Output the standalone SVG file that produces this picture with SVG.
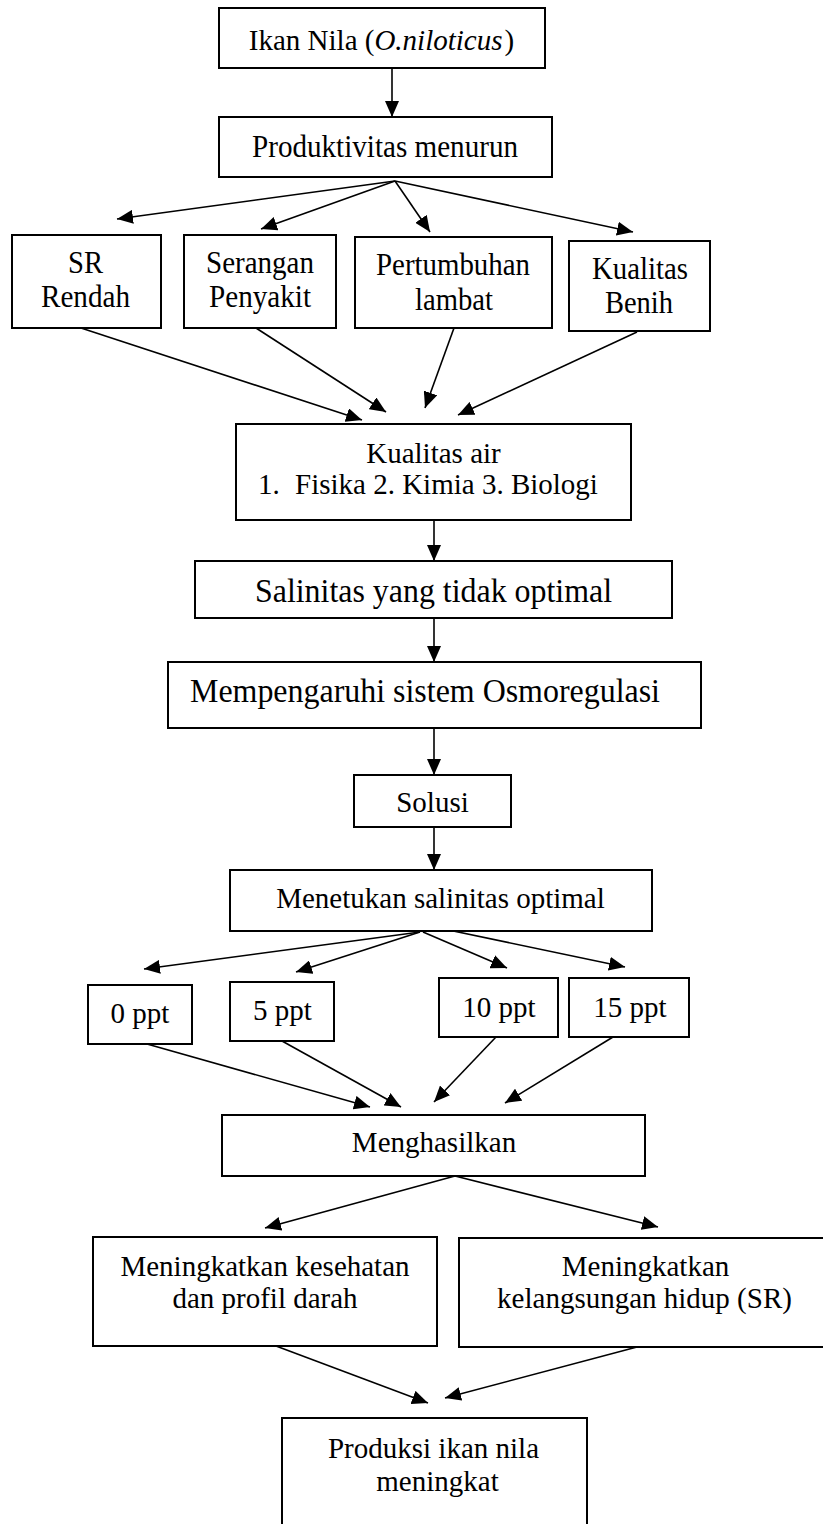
<svg xmlns="http://www.w3.org/2000/svg" width="823" height="1524" viewBox="0 0 823 1524">
<style>
.box{fill:#fff;stroke:#000;stroke-width:2}
.t{font-family:"Liberation Serif","Times New Roman",serif;font-size:29px;fill:#000;text-anchor:middle}
.big{font-size:32px}
.bg{font-size:33px}
.ln{stroke:#000;stroke-width:1.6;fill:none;marker-end:url(#ah)}
</style>
<defs>
<marker id="ah" viewBox="0 0 16 14" refX="16" refY="7" markerWidth="16" markerHeight="14" orient="auto" markerUnits="userSpaceOnUse">
<path d="M0,0 L16,7 L0,14 z" fill="#000"/>
</marker>
</defs>
<rect width="823" height="1524" fill="#fff"/>

<g id="connectors">
<line class="ln" x1="392" y1="68" x2="392" y2="117"/>
<line class="ln" x1="395" y1="181" x2="117" y2="219"/>
<line class="ln" x1="395" y1="181" x2="261" y2="229"/>
<line class="ln" x1="395" y1="181" x2="430" y2="232"/>
<line class="ln" x1="395" y1="181" x2="633" y2="232"/>
<line class="ln" x1="81" y1="328" x2="362" y2="420"/>
<line class="ln" x1="256" y1="328" x2="386" y2="412"/>
<line class="ln" x1="454" y1="328" x2="425" y2="408"/>
<line class="ln" x1="637" y1="332" x2="458" y2="415"/>
<line class="ln" x1="434" y1="520" x2="434" y2="561"/>
<line class="ln" x1="434" y1="618" x2="434" y2="662"/>
<line class="ln" x1="434" y1="728" x2="434" y2="775"/>
<line class="ln" x1="434" y1="827" x2="434" y2="870"/>
<line class="ln" x1="420" y1="932" x2="144" y2="969"/>
<line class="ln" x1="420" y1="932" x2="296" y2="972"/>
<line class="ln" x1="423" y1="932" x2="507" y2="968"/>
<line class="ln" x1="439" y1="928" x2="625" y2="967"/>
<line class="ln" x1="147" y1="1044" x2="370" y2="1107"/>
<line class="ln" x1="282" y1="1041" x2="401" y2="1107"/>
<line class="ln" x1="496" y1="1037" x2="434" y2="1102"/>
<line class="ln" x1="613" y1="1037" x2="505" y2="1103"/>
<line class="ln" x1="455" y1="1176" x2="265" y2="1228"/>
<line class="ln" x1="455" y1="1176" x2="658" y2="1227"/>
<line class="ln" x1="276" y1="1346" x2="428" y2="1403"/>
<line class="ln" x1="637" y1="1347" x2="445" y2="1398"/>
</g>

<g id="n-ikan">
<rect class="box" x="219" y="8" width="326" height="60"/>
<text class="t" x="381.5" y="50">Ikan Nila (<tspan font-style="italic">O.niloticus</tspan><tspan dx="2">)</tspan></text>
</g>
<g id="n-produktivitas">
<rect class="box" x="219" y="117" width="333" height="60"/>
<text class="t big" x="385" y="157" textLength="266" lengthAdjust="spacingAndGlyphs">Produktivitas menurun</text>
</g>
<g id="n-sr">
<rect class="box" x="12" y="235" width="149" height="93"/>
<text class="t big" x="85.5" y="273" textLength="35" lengthAdjust="spacingAndGlyphs">SR</text>
<text class="t big" x="85.5" y="307" textLength="89" lengthAdjust="spacingAndGlyphs">Rendah</text>
</g>
<g id="n-serangan">
<rect class="box" x="184" y="235" width="152" height="93"/>
<text class="t big" x="260" y="273" textLength="108" lengthAdjust="spacingAndGlyphs">Serangan</text>
<text class="t big" x="260" y="307" textLength="102" lengthAdjust="spacingAndGlyphs">Penyakit</text>
</g>
<g id="n-pertumbuhan">
<rect class="box" x="355" y="237" width="197" height="91"/>
<text class="t big" x="453" y="275" textLength="154" lengthAdjust="spacingAndGlyphs">Pertumbuhan</text>
<text class="t big" x="454" y="310" textLength="78" lengthAdjust="spacingAndGlyphs">lambat</text>
</g>
<g id="n-benih">
<rect class="box" x="569" y="241" width="141" height="90"/>
<text class="t big" x="640" y="279" textLength="96" lengthAdjust="spacingAndGlyphs">Kualitas</text>
<text class="t big" x="639" y="313" textLength="68" lengthAdjust="spacingAndGlyphs">Benih</text>
</g>
<g id="n-kualitas-air">
<rect class="box" x="236" y="424" width="395" height="96"/>
<text class="t" x="433.5" y="463">Kualitas air</text>
<text class="t" x="258" y="494" style="text-anchor:start">1.</text>
<text class="t" x="295" y="494" style="text-anchor:start">Fisika 2. Kimia 3. Biologi</text>
</g>
<g id="n-salinitas">
<rect class="box" x="195" y="561" width="477" height="57"/>
<text class="t bg" x="433.5" y="602" textLength="357" lengthAdjust="spacingAndGlyphs">Salinitas yang tidak optimal</text>
</g>
<g id="n-osmoregulasi">
<rect class="box" x="168" y="662" width="533" height="66"/>
<text class="t bg" x="425" y="702" textLength="470" lengthAdjust="spacingAndGlyphs">Mempengaruhi sistem Osmoregulasi</text>
</g>
<g id="n-solusi">
<rect class="box" x="354" y="775" width="157" height="52"/>
<text class="t" x="432.5" y="812">Solusi</text>
</g>
<g id="n-menetukan">
<rect class="box" x="230" y="870" width="422" height="61"/>
<text class="t" x="440.5" y="908">Menetukan salinitas optimal</text>
</g>
<g id="n-0ppt">
<rect class="box" x="88" y="985" width="104" height="59"/>
<text class="t" x="140" y="1023">0 ppt</text>
</g>
<g id="n-5ppt">
<rect class="box" x="230" y="982" width="104" height="59"/>
<text class="t" x="282.5" y="1020">5 ppt</text>
</g>
<g id="n-10ppt">
<rect class="box" x="439" y="978" width="119" height="59"/>
<text class="t" x="499" y="1017">10 ppt</text>
</g>
<g id="n-15ppt">
<rect class="box" x="569" y="978" width="120" height="59"/>
<text class="t" x="630" y="1017">15 ppt</text>
</g>
<g id="n-menghasilkan">
<rect class="box" x="222" y="1115" width="423" height="61"/>
<text class="t" x="434" y="1152">Menghasilkan</text>
</g>
<g id="n-kesehatan">
<rect class="box" x="93" y="1237" width="344" height="109"/>
<text class="t" x="265" y="1276">Meningkatkan kesehatan</text>
<text class="t" x="265" y="1308">dan profil darah</text>
</g>
<g id="n-sr-hidup">
<rect class="box" x="459" y="1238" width="380" height="109"/>
<text class="t" x="645.5" y="1276">Meningkatkan</text>
<text class="t" x="644.5" y="1308">kelangsungan hidup (SR)</text>
</g>
<g id="n-produksi">
<rect class="box" x="282" y="1418" width="305" height="120"/>
<text class="t" x="433.5" y="1458">Produksi ikan nila</text>
<text class="t" x="437.5" y="1491">meningkat</text>
</g>
</svg>
